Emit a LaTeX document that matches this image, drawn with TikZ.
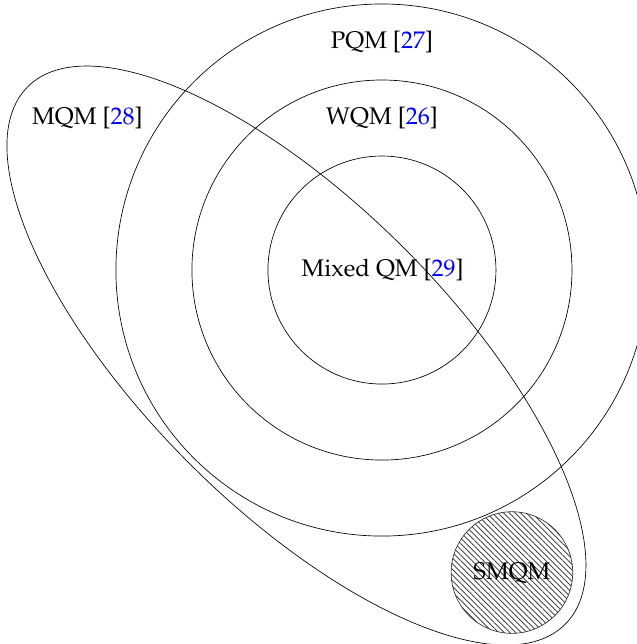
\documentclass[tikz,border=0pt]{standalone}
\usepackage[T1]{fontenc}
\usepackage{mathpazo}
\usetikzlibrary{patterns.meta}
\begin{document}
\begin{tikzpicture}[
  ring/.style={draw, line width=0.5pt},
  lbl/.style={font=\fontsize{18}{21}\selectfont, inner sep=0pt},
  hatch/.style={pattern={Lines[angle=-45, distance=3pt, line width=0.55pt]}, pattern color=black!85}
]
\useasboundingbox (-10.05,-9.84) rectangle (6.71,7.105);

% nested classes
\draw[ring] (0,0) circle (7);
\draw[ring] (0,0) circle (5);
\draw[ring] (0,0) circle (3);

% tilted MQM region
\draw[ring, rotate around={-45:(-2.25,-2.25)}] (-2.25,-2.25) ellipse (10 and 4);

% hatched SMQM disc
\draw[ring, draw=black!80, hatch] (3.42,-7.96) circle (1.6);

% labels
\node[lbl] (pqm)   at (0,6)        {PQM [\textcolor{blue}{27}]};
\node[lbl] (wqm)   at (0,4)        {WQM [\textcolor{blue}{26}]};
\node[lbl] (mixed) at (0.02,0)     {Mixed QM [\textcolor{blue}{29}]};
\node[lbl] (mqm)   at (-7.75,4)    {MQM [\textcolor{blue}{28}]};
\node[lbl] (smqm)  at (3.42,-7.98) {SMQM};
\end{tikzpicture}
\end{document}
